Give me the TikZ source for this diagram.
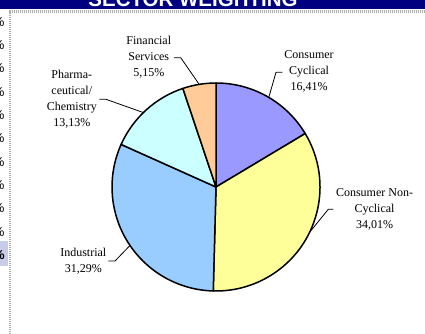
\documentclass[tikz,border=0pt]{standalone}
\usepackage{fontspec}
\setmainfont{Liberation Serif}
\newfontfamily\arialfont{Liberation Sans}
\definecolor{navy}{HTML}{000080}
\definecolor{ccyc}{HTML}{9999FF}
\definecolor{cnon}{HTML}{FFFF99}
\definecolor{cind}{HTML}{99CCFF}
\definecolor{cpha}{HTML}{CCFFFF}
\definecolor{cfin}{HTML}{FFCC99}
\definecolor{selbg}{HTML}{C8CCEA}
\begin{document}
\begin{tikzpicture}[x=1pt,y=1pt,
  slice/.style={draw=black, line width=1.5pt, line join=round},
  lbl/.style={align=center, font=\fontsize{12}{16}\selectfont, inner sep=0pt},
  leader/.style={draw=black, line width=0.8pt},
  pct/.style={anchor=east, inner sep=0pt, font=\arialfont\fontsize{13}{15}\selectfont}]
\useasboundingbox (0,0) rectangle (425,333);
\clip (0,0) rectangle (425,333);
\fill[white] (0,0) rectangle (425,333);
% title band
\fill[navy] (0,324) rectangle (425,333);
\node[anchor=base, text=white, inner sep=0pt, font=\arialfont\bfseries\fontsize{20.5}{24}\selectfont] (title) at (193,326.3) {SECTOR WEIGHTING};
% selection highlight on left
\fill[selbg] (0,67) rectangle (8,92);
% left axis fragments
\foreach \yy/\nm in {311.3/p1,288/p2,264.7/p3,241.3/p4,218/p5,194.7/p6,171.3/p7,148/p8,124.7/p9,101.3/p10}
  \node[pct] (\nm) at (4.6,\yy) {\%};
\node[pct, font=\arialfont\bfseries\fontsize{13}{15}\selectfont] (p11) at (4.9,78) {\%};
% dotted chart border
\draw[gray!65, line width=2pt, dash pattern=on 1pt off 1pt] (10,-5) -- (10,321.5) -- (430,321.5);
% pie
\coordinate (c) at (216,146);
\draw[slice, fill=ccyc] (c) -- ++(90:104pt) arc[start angle=90, end angle=30.92, radius=104pt] -- cycle;
\draw[slice, fill=cnon] (c) -- ++(30.92:104pt) arc[start angle=30.92, end angle=-91.52, radius=104pt] -- cycle;
\draw[slice, fill=cind] (c) -- ++(-91.52:104pt) arc[start angle=-91.52, end angle=-204.16, radius=104pt] -- cycle;
\draw[slice, fill=cpha] (c) -- ++(155.84:104pt) arc[start angle=155.84, end angle=108.57, radius=104pt] -- cycle;
\draw[slice, fill=cfin] (c) -- ++(108.57:104pt) arc[start angle=108.57, end angle=90, radius=104pt] -- cycle;
% labels
\node[lbl] (lfin) at (148.8,275.5) {Financial\\Services\\5,15\%};
\node[lbl] (lpha) at (71.8,234) {Pharma-\\ceutical/\\Chemistry\\13,13\%};
\node[lbl] (lcc) at (309,261.3) {Consumer\\Cyclical\\16,41\%};
\node[lbl] (lcnc) at (374.5,124) {Consumer Non-\\Cyclical\\34,01\%};
\node[lbl] (lind) at (83.3,71.8) {Industrial\\31,29\%};
% leader lines
\coordinate (finA) at (174,275.3);
\coordinate (phaA) at (99.3,233.7);
\coordinate (ccA) at (282.3,260.7);
\coordinate (cncA) at (333.3,123.7);
\coordinate (indA) at (108.3,72);
\path (c) ++(99.3:104pt) coordinate (finE);
\path (c) ++(134.3:104pt) coordinate (phaE);
\path (c) ++(59.5:104pt) coordinate (ccE);
\path (c) ++(-25.8:104pt) coordinate (cncE);
\path (c) ++(214.2:104pt) coordinate (indE);
\draw[leader] (finA) -- ++(6.7,0) -- (finE);
\draw[leader] (phaA) -- ++(6.7,0) -- (phaE);
\draw[leader] (ccA) -- ++(-6.3,0) -- (ccE);
\draw[leader] (cncA) -- ++(-5,0) -- (cncE);
\draw[leader] (indA) -- ++(6.7,0) -- (indE);
\end{tikzpicture}
\end{document}
